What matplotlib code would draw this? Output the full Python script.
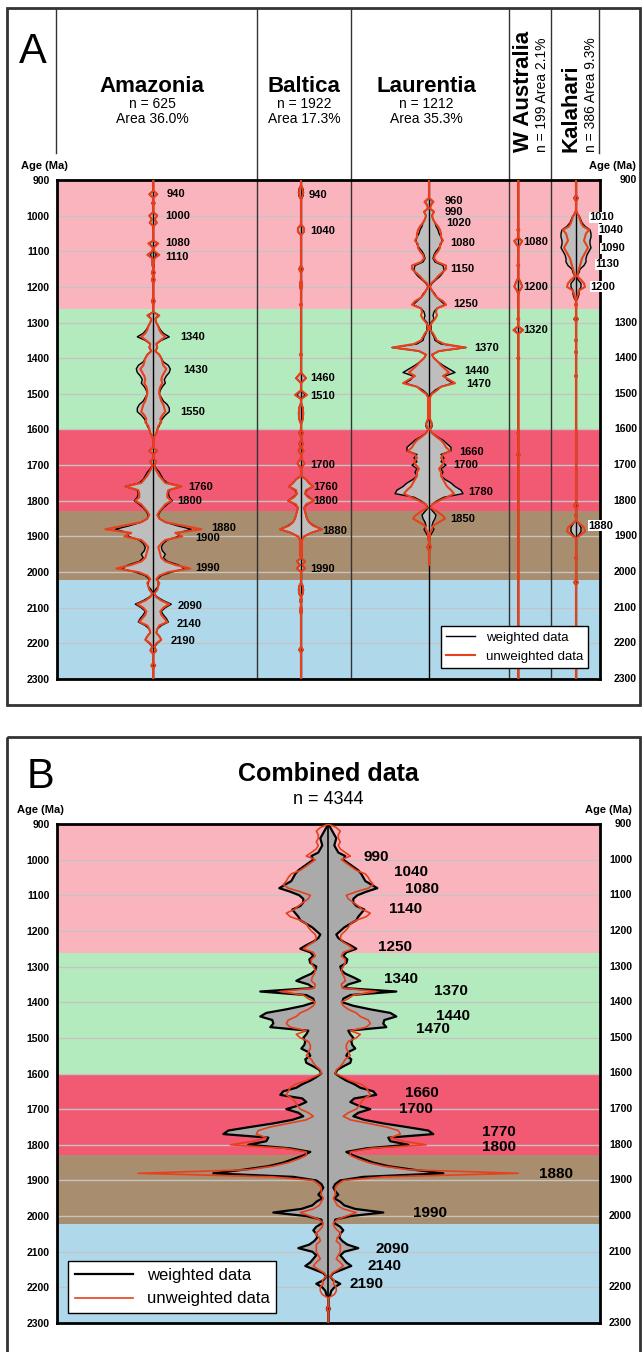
import numpy as np
import matplotlib
matplotlib.use("Agg")
import matplotlib.pyplot as plt
from matplotlib.lines import Line2D
from matplotlib.patches import Rectangle

plt.rcParams['font.family'] = ['Liberation Sans', 'DejaVu Sans']

RED = '#E8401C'
band_edges = [900, 1262, 1601, 1828, 2022, 2300]
band_colors = ['#FAB4BE', '#B4EBBE', '#F25A74', '#A88E6E', '#AFD9EB']
ticks = list(range(900, 2301, 100))
# right-hand labels of panel A that sit behind the Kalahari peak labels
ticks_A_right = [900] + list(range(1300, 2301, 100))

# ---- panel A : per craton (age, weighted half width, unweighted half width)
amaz_age = [900, 930, 940, 950, 960, 965, 970, 990, 1000, 1010, 1020, 1030, 1070, 1078, 1090, 1100,
            1110, 1120, 1140, 1150, 1160, 1170, 1180, 1190, 1230, 1240, 1250, 1270, 1280, 1290, 1300,
            1310, 1320, 1330, 1340, 1350, 1360, 1370, 1380, 1390, 1400, 1410, 1420, 1430, 1440, 1450,
            1460, 1470, 1480, 1490, 1500, 1510, 1520, 1530, 1540, 1550, 1560, 1570, 1580, 1590, 1600,
            1610, 1620, 1630, 1650, 1660, 1670, 1680, 1690, 1700, 1710, 1720, 1730, 1740, 1750, 1760,
            1770, 1780, 1790, 1800, 1810, 1820, 1830, 1840, 1850, 1860, 1870, 1880, 1890, 1900, 1910,
            1920, 1930, 1940, 1950, 1960, 1970, 1980, 1990, 2000, 2010, 2020, 2030, 2040, 2050, 2060,
            2070, 2080, 2090, 2100, 2110, 2120, 2130, 2140, 2150, 2160, 2170, 2180, 2190, 2200, 2210,
            2220, 2230, 2255, 2262, 2270, 2300]
amaz_w = [0, 0, 4, 0, 0, 1.5, 0, 0, 4, 1.5, 3.5, 0, 0, 4, 0, 1,
          3, 1, 1, 0, 1.5, 0, 1.5, 0, 0, 1.5, 0, 0, 5, 2, 3,
          5, 7, 10, 16, 8, 3, 4, 2, 6, 8, 10, 15, 17, 16, 13,
          11, 12, 9, 7, 6, 8, 10, 14, 16, 16, 12, 9, 7, 6, 4,
          3, 1, 0, 0, 4, 0, 0, 3, 1, 3, 6, 8, 10, 14, 28,
          16, 15, 16, 19, 14, 10, 7, 5, 6, 12, 24, 38, 25, 25, 14,
          10, 8, 9, 12, 10, 14, 25, 32, 18, 8, 4, 5, 5, 2, 0,
          4, 10, 18, 12, 8, 10, 13, 15, 8, 4, 3, 6, 8, 4, 1,
          3, 0, 0, 2, 0, 0]
amaz_u = [0, 0, 4, 0, 0, 1.5, 0, 0, 4, 1.5, 3.5, 0, 0, 5, 0.5, 1,
          6, 1, 0.5, 0, 1.5, 0, 1.5, 0, 0, 1.5, 0, 0, 6, 2, 3,
          5, 6, 8, 12, 7, 3, 4, 2, 6, 8, 9, 10, 13, 11, 9,
          8, 9, 7, 6, 6, 7, 8, 10, 11, 12, 9, 7, 8, 5, 4,
          3, 1, 0, 0, 4, 0, 0, 3, 1, 2, 4, 6, 9, 12, 28,
          15, 14, 14, 18, 12, 9, 6, 4, 6, 12, 30, 48, 22, 29, 12,
          8, 5, 6, 7, 8, 12, 22, 37, 15, 6, 3, 6, 5, 4, 1,
          3, 8, 16, 10, 7, 8, 11, 14, 6, 4, 3, 6, 8, 3, 1,
          3, 0, 0, 2, 0, 0]

balt_age = [900, 915, 925, 935, 945, 955, 1025, 1035, 1045, 1055, 1140, 1150, 1160, 1180, 1190, 1200,
            1210, 1245, 1250, 1255, 1385, 1390, 1395, 1440, 1456, 1470, 1490, 1503, 1515, 1525, 1540,
            1555, 1570, 1585, 1600, 1610, 1620, 1630, 1640, 1650, 1660, 1670, 1680, 1695, 1710, 1730,
            1740, 1750, 1760, 1770, 1780, 1790, 1800, 1810, 1820, 1830, 1840, 1850, 1860, 1870, 1880,
            1890, 1900, 1910, 1950, 1960, 1970, 1980, 1990, 2000, 2030, 2040, 2050, 2060, 2070, 2080,
            2090, 2110, 2120, 2210, 2218, 2226, 2300]
balt_w = [0, 0, 2, 2.5, 2, 0, 0, 3, 3, 0, 0, 2, 0, 0, 1, 1,
          0, 0, 1, 0, 0, 1, 0, 0, 5, 0, 0, 4, 0, 0, 2,
          2.5, 2, 0, 0, 2, 0, 0, 2, 0.5, 2.5, 0, 0, 3.5, 0, 0,
          5, 8, 12, 6, 4, 8, 13, 6, 3, 4, 5, 6, 8, 13, 21,
          10, 3, 1, 1, 0, 4, 1, 4, 0, 0, 2, 2.5, 2, 0, 1,
          0, 1, 0, 0, 2, 0, 0]
balt_u = [0, 0, 1.5, 2, 1.5, 0, 0, 3, 3, 0, 0, 2, 0, 0, 1, 1,
          0, 0, 1, 0, 0, 1, 0, 0, 5, 0, 0, 6, 0, 0, 2,
          2, 2, 0, 0, 2, 0, 0, 2, 0.5, 2.5, 0, 0, 3.5, 0, 0,
          5, 8, 12, 5, 4, 7, 13, 5, 3, 4, 5, 6, 8, 12, 21,
          10, 3, 1, 1, 0, 4, 1.5, 4, 0, 0, 2, 2, 2, 0, 1,
          0, 1, 0, 0, 2, 0, 0]

laur_age = [900, 950, 961, 970, 980, 989, 1000, 1010, 1020, 1030, 1040, 1050, 1060, 1070, 1080, 1090,
            1100, 1110, 1120, 1130, 1140, 1150, 1160, 1170, 1180, 1190, 1200, 1210, 1220, 1230, 1240,
            1250, 1260, 1270, 1280, 1290, 1300, 1310, 1320, 1330, 1340, 1350, 1360, 1370, 1380, 1390,
            1400, 1410, 1420, 1430, 1440, 1450, 1460, 1470, 1480, 1490, 1500, 1510, 1570, 1584, 1592,
            1600, 1610, 1620, 1630, 1640, 1650, 1660, 1670, 1680, 1690, 1700, 1710, 1720, 1730, 1740,
            1750, 1760, 1770, 1780, 1790, 1800, 1810, 1820, 1830, 1840, 1850, 1860, 1870, 1880, 1890,
            1900, 1920, 1930, 1940, 1980]
laur_w = [0, 0, 4, 2, 1, 5, 3, 4, 6, 7, 9, 10, 12, 13, 12, 10,
          7, 5, 4, 6, 14, 15, 14, 11, 7, 3, 1, 3, 6, 8, 12,
          16, 8, 5, 4, 5, 2, 2, 2, 3, 5, 6, 12, 37, 10, 3,
          5, 9, 14, 20, 26, 16, 18, 24, 12, 6, 2, 0, 0, 3, 3,
          1, 3, 8, 14, 18, 22, 22, 12, 15, 12, 17, 12, 14, 12, 16,
          22, 26, 32, 34, 15, 8, 3, 1, 4, 7, 6, 4, 3, 5, 3,
          1, 0, 2, 0, 0]
laur_u = [0, 0, 4.5, 2, 1, 5, 3, 4, 6, 9, 11, 12, 12, 14, 11, 11,
          9, 6, 5, 8, 17, 17, 13, 9, 6, 2, 1, 3, 5, 8, 14,
          17, 8, 7, 8, 6, 3, 1, 1, 4, 6, 8, 15, 36, 10, 3,
          5, 9, 12, 16, 20, 14, 20, 26, 12, 8, 3, 1, 1, 3, 2,
          1, 3, 7, 12, 15, 17, 21, 14, 12, 15, 13, 10, 12, 12, 14,
          16, 18, 22, 25, 18, 10, 3, 2, 8, 13, 16, 10, 4, 3, 1,
          1, 0, 2, 0, 0]

waus_age = [900, 1035, 1040, 1045, 1062, 1071, 1080, 1088, 1135, 1140, 1145, 1175, 1185, 1199, 1212, 1222,
            1285, 1290, 1295, 1310, 1321, 1332, 1395, 1400, 1405, 1605, 1610, 1615, 1665, 1671, 1677, 2300]
waus_w = [0, 0, 1, 0, 0, 4, 2, 0, 0, 1, 0, 0, 2, 4, 1, 0,
          0, 1, 0, 0, 4, 0, 0, 1, 0, 0, 1, 0, 0, 1.5, 0, 0]
waus_u = [0, 0, 1, 0, 0, 4, 2, 0, 0, 1, 0, 0, 2, 4, 1, 0,
          0, 1, 0, 0, 5, 0, 0, 1, 0, 0, 1, 0, 0, 1.5, 0, 0]

kala_age = [900, 942, 951, 960, 985, 995, 1003, 1020, 1030, 1040, 1050, 1060, 1070, 1080, 1090, 1100,
            1110, 1120, 1130, 1140, 1150, 1160, 1170, 1180, 1190, 1200, 1210, 1220, 1230, 1240, 1245,
            1250, 1255, 1283, 1290, 1297, 1345, 1350, 1355, 1378, 1383, 1388, 1445, 1450, 1455, 1805,
            1814, 1822, 1835, 1840, 1848, 1855, 1865, 1875, 1886, 1895, 1905, 1955, 1960, 1965, 2022,
            2029, 2036, 2300]
kala_w = [0, 0, 2, 0, 0, 1.5, 3.5, 6, 9, 14, 15, 15, 14, 14, 15, 13,
          11, 10, 10, 8, 4, 3, 1, 2, 5, 5, 3, 3, 2, 0, 0,
          1, 0, 0, 2, 0, 0, 1, 0, 0, 1, 0, 0, 1, 0, 0,
          2, 0, 0, 1, 0, 0, 3, 5, 5, 3, 0, 0, 1, 0, 0,
          2, 0, 0]
kala_u = [0, 0, 2, 0, 0, 1.5, 3, 5, 7, 13, 10, 9, 8, 10, 12, 10,
          8, 6, 5, 4, 3, 2, 1, 5, 8, 9, 3, 2, 1, 0, 0,
          1, 0, 0, 2, 0, 0, 1, 0, 0, 1, 0, 0, 1, 0, 0,
          2, 0, 0, 1, 0, 0, 4, 8, 9, 5, 0, 0, 1, 0, 0,
          2, 0, 0]

craton_names = ['Amazonia', 'Baltica', 'Laurentia', 'W Australia', 'Kalahari']
craton_n = [625, 1922, 1212, 199, 386]
craton_area = ['36.0%', '17.3%', '35.3%', '2.1%', '9.3%']

amaz_peaks = [940, 1000, 1080, 1110, 1340, 1430, 1550, 1760, 1800, 1880, 1900, 1990, 2090, 2140, 2190]
balt_peaks = [940, 1040, 1460, 1510, 1700, 1760, 1800, 1880, 1990]
laur_peaks = [960, 990, 1020, 1080, 1150, 1250, 1370, 1440, 1470, 1660, 1700, 1780, 1850]
waus_peaks = [1080, 1200, 1320]
kala_peaks = [1010, 1040, 1090, 1130, 1200, 1880]

# ---- panel B : combined, every 10 Ma from 900 to 2300
comb_age = np.arange(900, 2301, 10)
comb_w = [0, 2, 4, 6, 8, 7, 6, 8, 10, 17, 15, 20, 25, 30, 33, 35, 37, 43, 49, 38,
          29, 25, 25, 28, 36, 33, 30, 28, 22, 16, 12, 8, 10, 15, 22, 28, 18, 15, 19, 18,
          12, 13, 17, 25, 32, 20, 15, 68, 22, 15, 14, 25, 42, 62, 68, 56, 55, 58, 20, 22,
          25, 23, 24, 27, 20, 18, 23, 22, 15, 9, 7, 12, 18, 26, 32, 45, 48, 26, 22, 30,
          42, 30, 25, 36, 55, 78, 100, 105, 60, 62, 80, 38, 18, 25, 35, 45, 60, 85, 115, 35,
          12, 7, 5, 7, 10, 6, 12, 16, 27, 55, 22, 7, 6, 12, 15, 12, 11, 14, 19, 30,
          16, 12, 15, 18, 23, 14, 5, 2, 5, 12, 6, 3, 2, 0, 0, 0, 1.5, 0, 0, 0, 0]
comb_u = [0, 8, 12, 10, 10, 12, 10, 12, 17, 22, 13, 18, 23, 28, 37, 40, 42, 45, 40, 28,
          18, 20, 25, 30, 34, 42, 38, 28, 22, 20, 17, 13, 12, 14, 20, 25, 15, 13, 17, 17,
          15, 13, 14, 16, 17, 13, 14, 48, 25, 20, 13, 15, 20, 28, 32, 40, 42, 38, 22, 32,
          28, 20, 18, 18, 20, 22, 17, 15, 12, 8, 7, 15, 22, 33, 38, 40, 42, 36, 33, 31,
          28, 20, 15, 22, 40, 58, 70, 72, 62, 75, 98, 42, 22, 22, 30, 40, 55, 80, 190, 55,
          15, 10, 7, 7, 7, 5, 7, 9, 15, 28, 18, 9, 5, 6, 9, 13, 9, 8, 12, 12,
          12, 10, 8, 12, 15, 10, 4, 2, 6, 5, 8, 8, 6, 0, 0, 0, 1.5, 0, 0, 0, 0]
comb_peaks = [990, 1040, 1080, 1140, 1250, 1340, 1370, 1440, 1470, 1660, 1700, 1770, 1800, 1880,
              1990, 2090, 2140, 2190]


def px_axes(fig, x0, x1, y0, y1):
    W, H = 644.0, 1352.0
    return fig.add_axes([x0 / W, 1 - y1 / H, (x1 - x0) / W, (y1 - y0) / H])


def setup(ax):
    for lo, hi, col in zip(band_edges[:-1], band_edges[1:], band_colors):
        ax.axhspan(lo, hi, color=col, lw=0, zorder=0)
    for t in ticks[1:-1]:
        ax.axhline(t, color='#C4C4C4', lw=1, zorder=1)
    ax.set_ylim(2300, 900)
    ax.set_xticks([])
    ax.set_yticks(ticks)
    ax.set_yticklabels([str(t) for t in ticks], fontsize=7.5, fontweight='bold')
    ax.tick_params(axis='y', length=0, pad=5, labelright=False)
    for s in ax.spines.values():
        s.set_linewidth(2)


def violin(ax, c, age, w, u, fill, lwb, lwr):
    age = np.asarray(age, float)
    w = np.asarray(w, float)
    u = np.asarray(u, float)
    ax.fill_betweenx(age, c - w, c + w, color=fill, lw=0, zorder=2)
    ax.plot(c - w, age, color='black', lw=lwb, zorder=3)
    ax.plot(c + w, age, color='black', lw=lwb, zorder=3)
    ax.plot(c - u, age, color=RED, lw=lwr, zorder=4)
    ax.plot(c + u, age, color=RED, lw=lwr, zorder=4)


fig = plt.figure(figsize=(6.44, 13.52), dpi=100)

# overlay in pixel coordinates for boxes and headings
ov = fig.add_axes([0, 0, 1, 1])
ov.set_xlim(0, 644)
ov.set_ylim(1352, 0)
ov.axis('off')
ov.add_patch(Rectangle((7.5, 8), 633, 697, fill=False, lw=2, ec='#333333'))
ov.add_patch(Rectangle((7.5, 737), 633, 640, fill=False, lw=2, ec='#333333'))
for x in [56.5, 599.5]:
    ov.plot([x, x], [8, 153], color='#333333', lw=1)
for x in [257, 351, 509, 551]:
    ov.plot([x, x], [8, 180], color='#333333', lw=1)

ov.text(33, 52, 'A', fontsize=30, ha='center', va='center')
ov.text(41, 777, 'B', fontsize=30, ha='center', va='center')
head_x = [152, 304, 426]
for i in range(3):
    ov.text(head_x[i], 87, craton_names[i], fontsize=16, fontweight='bold', ha='center', va='center')
    ov.text(head_x[i], 104, 'n = %d' % craton_n[i], fontsize=10, ha='center', va='center')
    ov.text(head_x[i], 119, 'Area ' + craton_area[i], fontsize=10, ha='center', va='center')
rot_x = [(524, 542), (571, 591)]
for i in range(2):
    xa, xb = rot_x[i]
    ov.text(xa, 152, craton_names[3 + i], fontsize=16, fontweight='bold', rotation=90,
            ha='center', va='bottom')
    ov.text(xb, 152, 'n = %d Area %s' % (craton_n[3 + i], craton_area[3 + i]), fontsize=10,
            rotation=90, ha='center', va='bottom')
ov.text(44, 166, 'Age (Ma)', fontsize=8, fontweight='bold', ha='center', va='center')
ov.text(612, 166, 'Age (Ma)', fontsize=8, fontweight='bold', ha='center', va='center')
ov.text(40, 810, 'Age (Ma)', fontsize=8, fontweight='bold', ha='center', va='center')
ov.text(608, 810, 'Age (Ma)', fontsize=8, fontweight='bold', ha='center', va='center')
ov.text(328, 774, 'Combined data', fontsize=18, fontweight='bold', ha='center', va='center')
ov.text(328, 800, 'n = 4344', fontsize=13, ha='center', va='center')

# ---- panel A
axA = px_axes(fig, 56.5, 599.5, 180, 679)
setup(axA)
axA.set_xlim(56.5, 599.5)
for x in [257, 351, 509, 551]:
    axA.axvline(x, color='#333333', lw=1, zorder=1.5)
centers = [153.3, 301, 429, 518.3, 576]
cols = [(amaz_age, amaz_w, amaz_u), (balt_age, balt_w, balt_u), (laur_age, laur_w, laur_u),
        (waus_age, waus_w, waus_u), (kala_age, kala_w, kala_u)]
for c, (a, w, u) in zip(centers, cols):
    axA.plot([c, c], [900, 2300], color='black', lw=1, zorder=2.5)
    violin(axA, c, a, w, u, '#BEBEBE', 1.0, 1.5)
for t in ticks_A_right:
    axA.text(637, t, str(t), fontsize=7.5, fontweight='bold', ha='right', va='center', clip_on=False)

lab_A = [
    (amaz_peaks, [167, 165, 165, 165, 180, 183, 180, 188, 177, 211, 195, 195, 178, 177, 171],
     [940, 1000, 1077, 1115, 1340, 1433, 1552, 1760, 1800, 1875, 1905, 1989, 2095, 2145, 2193]),
    (balt_peaks, [309, 310, 310, 310, 310, 313, 313, 322, 310],
     [942, 1043, 1456, 1506, 1700, 1760, 1800, 1885, 1990]),
    (laur_peaks, [445, 445, 446, 450, 450, 453, 474, 464, 466, 459, 453, 468, 450],
     [959, 989, 1020, 1078, 1150, 1249, 1372, 1436, 1473, 1662, 1701, 1774, 1852]),
    (waus_peaks, [523, 523, 523], [1073, 1199, 1321]),
]
for names, xs, ys in lab_A:
    for n, x, y in zip(names, xs, ys):
        axA.text(x, y, str(n), fontsize=8, fontweight='bold', ha='left', va='center', zorder=6)
for n, x, y in zip(kala_peaks, [589, 598, 600, 595, 590, 588], [1005, 1040, 1092, 1137, 1199, 1870]):
    axA.text(x, y, str(n), fontsize=8, fontweight='bold', ha='left', va='center', zorder=6,
             clip_on=False, bbox=dict(fc='white', ec='none', pad=0.3))

handles = [Line2D([], [], color='black', lw=1), Line2D([], [], color=RED, lw=1.5)]
legA = axA.legend(handles, ['weighted data', 'unweighted data'], loc='lower right',
                  bbox_to_anchor=(0.979, 0.022), borderaxespad=0, fancybox=False,
                  edgecolor='black', framealpha=1, fontsize=9.5, handlelength=2.2)
legA.get_frame().set_linewidth(1)
legA.set_zorder(10)

# ---- panel B
axB = px_axes(fig, 56.5, 599.5, 824, 1323)
setup(axB)
axB.set_xlim(56.5, 599.5)
cB = 328.3
axB.plot([cB, cB], [900, 2300], color='black', lw=1.2, zorder=2.5)
violin(axB, cB, comb_age, comb_w, comb_u, '#AAAAAA', 1.6, 1.2)
for t in ticks:
    axB.text(632, t, str(t), fontsize=7.5, fontweight='bold', ha='right', va='center', clip_on=False)
lab_Bx = [363, 394, 405, 389, 378, 384, 434, 436, 416, 405, 399, 482, 482, 539, 413, 375, 368, 350]
lab_By = [993, 1034, 1082, 1138, 1246, 1335, 1368, 1438, 1474, 1656, 1700, 1763, 1805, 1883,
          1990, 2091, 2141, 2191]
for n, x, y in zip(comb_peaks, lab_Bx, lab_By):
    axB.text(x, y, str(n), fontsize=11, fontweight='bold', ha='left', va='center', zorder=6)
handlesB = [Line2D([], [], color='black', lw=1.6), Line2D([], [], color=RED, lw=1.2)]
legB = axB.legend(handlesB, ['weighted data', 'unweighted data'], loc='lower left',
                  bbox_to_anchor=(0.022, 0.02), borderaxespad=0, fancybox=False,
                  edgecolor='black', framealpha=1, fontsize=12, handlelength=3.5)
legB.get_frame().set_linewidth(1)
legB.set_zorder(10)

fig.savefig('out.png', dpi=100)
